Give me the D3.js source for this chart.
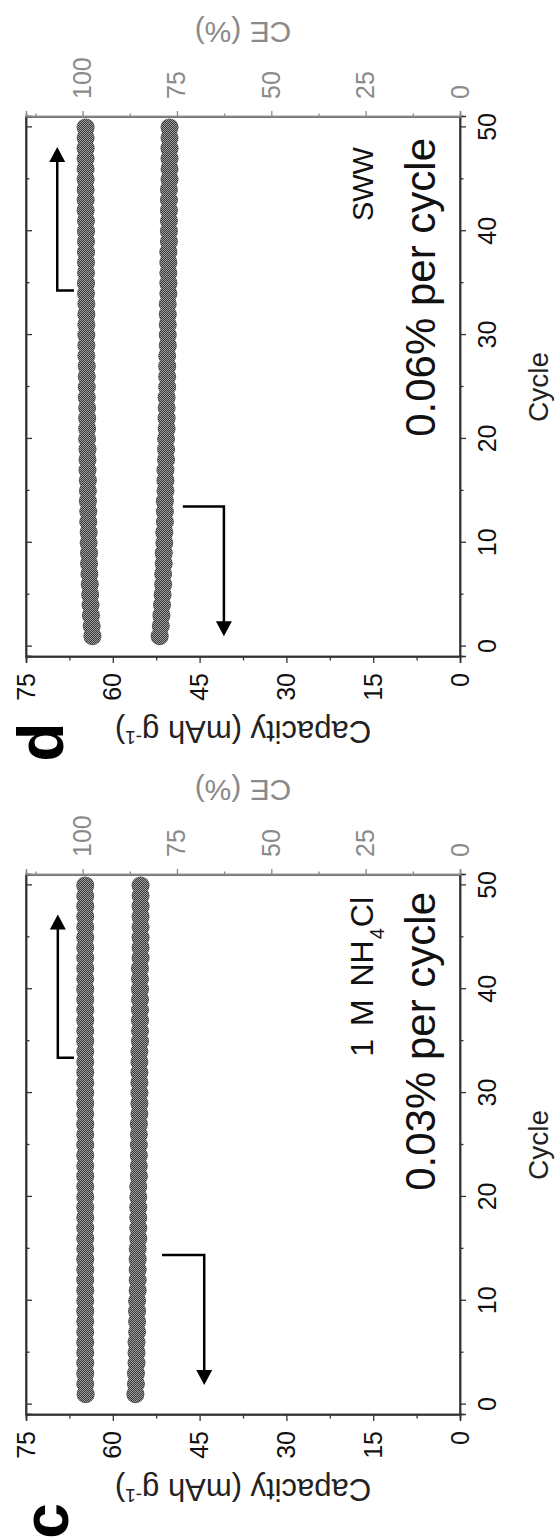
<!DOCTYPE html>
<html>
<head>
<meta charset="utf-8">
<script src="https://cdn.jsdelivr.net/npm/d3@7"></script>
<style>
  body { margin: 0; background: #fff; }
  svg { display: block; }
  text { font-family: "Liberation Sans", Arial, sans-serif; }
</style>
</head>
<body>
<svg width="560" height="1540"></svg>
<script>
// cycle numbers and the values
const cycles = [1, 2, 3, 4, 5, 6, 7, 8, 9, 10, 11, 12, 13, 14, 15, 16, 17, 18, 19, 20,
  21, 22, 23, 24, 25, 26, 27, 28, 29, 30, 31, 32, 33, 34, 35, 36, 37, 38, 39, 40,
  41, 42, 43, 44, 45, 46, 47, 48, 49, 50];

// panel c : 1 M NH4Cl
const capC = [56.1, 56.0, 56.0, 55.9, 55.9, 55.9, 55.8, 55.8, 55.8, 55.8,
  55.7, 55.7, 55.7, 55.7, 55.7, 55.6, 55.6, 55.6, 55.6, 55.6,
  55.6, 55.5, 55.5, 55.5, 55.5, 55.5, 55.5, 55.4, 55.4, 55.4,
  55.4, 55.4, 55.4, 55.4, 55.3, 55.3, 55.3, 55.3, 55.3, 55.3,
  55.3, 55.3, 55.2, 55.2, 55.2, 55.2, 55.2, 55.2, 55.2, 55.2];
const ceC = [99.2, 99.3, 99.3, 99.3, 99.3, 99.3, 99.3, 99.3, 99.3, 99.3,
  99.3, 99.3, 99.3, 99.3, 99.3, 99.3, 99.3, 99.3, 99.3, 99.3,
  99.3, 99.3, 99.3, 99.3, 99.3, 99.3, 99.3, 99.3, 99.3, 99.3,
  99.3, 99.3, 99.3, 99.3, 99.3, 99.3, 99.3, 99.3, 99.3, 99.3,
  99.3, 99.3, 99.3, 99.3, 99.3, 99.3, 99.3, 99.3, 99.3, 99.3];

// panel d : SWW
const capD = [51.9, 51.7, 51.6, 51.5, 51.4, 51.3, 51.3, 51.2, 51.2, 51.1,
  51.1, 51.0, 51.0, 51.0, 50.9, 50.9, 50.9, 50.8, 50.8, 50.8,
  50.7, 50.7, 50.7, 50.7, 50.6, 50.6, 50.6, 50.6, 50.5, 50.5,
  50.5, 50.5, 50.5, 50.4, 50.4, 50.4, 50.4, 50.4, 50.3, 50.3,
  50.3, 50.3, 50.3, 50.3, 50.2, 50.2, 50.2, 50.2, 50.2, 50.2];
const ceD = [97.4, 97.6, 97.8, 97.9, 98.0, 98.1, 98.2, 98.3, 98.3, 98.4,
  98.4, 98.5, 98.5, 98.6, 98.6, 98.6, 98.7, 98.7, 98.7, 98.8,
  98.8, 98.8, 98.8, 98.9, 98.9, 98.9, 98.9, 99.0, 99.0, 99.0,
  99.0, 99.0, 99.0, 99.1, 99.1, 99.1, 99.1, 99.1, 99.1, 99.1,
  99.1, 99.2, 99.2, 99.2, 99.2, 99.2, 99.2, 99.2, 99.2, 99.2];

// ticks
const cycleTicks = [0, 10, 20, 30, 40, 50];
const cycleMinor = [5, 15, 25, 35, 45];
const capTicks = [0, 15, 30, 45, 60, 75];
const capMinor = [7.5, 22.5, 37.5, 52.5, 67.5];
const ceTicks = [0, 25, 50, 75, 100];
const ceMinor = [12.5, 37.5, 62.5, 87.5, 112.5];

const svg = d3.select('svg');

// halftone-ish fill for the markers
const pat = svg.append('defs').append('pattern')
  .attr('id', 'dots')
  .attr('width', 2)
  .attr('height', 2)
  .attr('patternUnits', 'userSpaceOnUse');
pat.append('rect').attr('width', 2).attr('height', 2).attr('fill', '#a0a0a0');
pat.append('rect').attr('width', 1).attr('height', 1).attr('fill', '#383838');
pat.append('rect').attr('x', 1).attr('y', 1).attr('width', 1).attr('height', 1).attr('fill', '#383838');

// the figure is laid out upright (1540 x 560) and turned a quarter left
const fig = svg.append('g').attr('transform', 'translate(0,1540) rotate(-90)');

const plotW = 540;
const plotTop = 26;
const plotBottom = 460;

const panels = [
  {
    letter: 'c', x0: 125, cap: capC, ce: ceC,
    letterPos: [19, 68],
    label: ['1 M NH', '4', 'Cl'], labelSize: 32,
    rate: '0.03% per cycle',
    labelEnd: 643, rateEnd: 648,
    up: { from: 33.4, to: 47.2, v0: 66.7, v1: 69.5 },
    down: { from: 14.4, to: 1.9, v0: 51.5, v1: 44.2 },
  },
  {
    letter: 'd', x0: 883, cap: capD, ce: ceD,
    letterPos: [798, 63],
    label: ['SWW'], labelSize: 29,
    rate: '0.06% per cycle',
    labelEnd: 1393, rateEnd: 1402,
    up: { from: 34.3, to: 48.1, v0: 66.7, v1: 69.6 },
    down: { from: 13.5, to: 1.0, v0: 47.9, v1: 40.8 },
  },
];

function drawPanel(p) {
  const g = fig.append('g');

  const x = d3.scaleLinear().domain([-1, 51]).range([p.x0, p.x0 + plotW]);
  const y = d3.scaleLinear().domain([0, 75]).range([plotBottom, plotTop]);
  const y2 = d3.scaleLinear().domain([0, 115]).range([plotBottom, plotTop]);

  // markers, drawn as fat overlapping dots: thin dark rim first, textured body on top
  const series = [
    { vals: p.ce, s: y2 },
    { vals: p.cap, s: y },
  ];
  series.forEach(sr => {
    const m = g.append('g');
    m.selectAll('circle.rim')
      .data(cycles)
      .join('circle')
      .attr('class', 'rim')
      .attr('cx', d => x(d))
      .attr('cy', (d, i) => sr.s(sr.vals[i]))
      .attr('r', 9)
      .attr('fill', '#555');
    m.selectAll('circle.body')
      .data(cycles)
      .join('circle')
      .attr('class', 'body')
      .attr('cx', d => x(d))
      .attr('cy', (d, i) => sr.s(sr.vals[i]))
      .attr('r', 8.3)
      .attr('fill', 'url(#dots)');
  });

  // frame
  g.append('rect')
    .attr('x', x.range()[0])
    .attr('y', plotTop)
    .attr('width', plotW)
    .attr('height', plotBottom - plotTop)
    .attr('fill', 'none')
    .attr('stroke', '#333')
    .attr('stroke-width', 1.5);

  const tickFont = 25;

  // cycle axis
  g.append('g').attr('transform', `translate(0,${plotBottom})`)
    .call(d3.axisBottom(x).tickValues(cycleTicks).tickSize(6).tickPadding(12));
  g.append('g').attr('transform', `translate(0,${plotBottom})`)
    .call(d3.axisBottom(x).tickValues(cycleMinor).tickSize(3.5).tickFormat(''));
  g.append('g').attr('transform', `translate(0,${plotTop})`)
    .call(d3.axisBottom(x).tickValues(cycleTicks).tickSize(6).tickFormat(''));
  g.append('g').attr('transform', `translate(0,${plotTop})`)
    .call(d3.axisBottom(x).tickValues(cycleMinor).tickSize(3.5).tickFormat(''));

  // capacity axis
  g.append('g').attr('transform', `translate(${x.range()[0]},0)`)
    .call(d3.axisLeft(y).tickValues(capTicks).tickSize(6).tickPadding(10));
  g.append('g').attr('transform', `translate(${x.range()[0]},0)`)
    .call(d3.axisLeft(y).tickValues(capMinor).tickSize(3.5).tickFormat(''));

  // CE axis
  g.append('g').attr('class', 'ce').attr('transform', `translate(${x.range()[1]},0)`)
    .call(d3.axisRight(y2).tickValues(ceTicks).tickSize(6).tickPadding(12));
  g.append('g').attr('class', 'ce').attr('transform', `translate(${x.range()[1]},0)`)
    .call(d3.axisRight(y2).tickValues(ceMinor).tickSize(3.5).tickFormat(''));

  g.selectAll('.domain').attr('stroke', '#333').attr('stroke-width', 1.5);
  g.selectAll('.tick line').attr('stroke', '#333').attr('stroke-width', 1.3);
  g.selectAll('.tick text')
    .attr('font-size', tickFont)
    .attr('font-family', '"Liberation Sans", Arial, sans-serif')
    .attr('fill', '#111');
  g.selectAll('.ce .domain').attr('stroke', '#8a8a8a');
  g.selectAll('.ce .tick line').attr('stroke', '#8a8a8a');
  g.selectAll('.ce .tick text').attr('fill', '#8a8a8a');

  // axis titles
  g.append('text')
    .attr('x', (x.range()[0] + x.range()[1]) / 2)
    .attr('y', 538)
    .attr('dy', '0.35em')
    .attr('text-anchor', 'middle')
    .attr('font-size', 28)
    .attr('fill', '#222')
    .text('Cycle');

  const capTitle = g.append('text')
    .attr('transform', `translate(${p.x0 - 75},${(plotTop + plotBottom) / 2}) rotate(-90)`)
    .attr('dy', '0.35em')
    .attr('text-anchor', 'middle')
    .attr('font-size', 31)
    .attr('fill', '#222');
  capTitle.append('tspan').text('Capacity (mAh g');
  capTitle.append('tspan').attr('baseline-shift', 'super').attr('font-size', 19).text('-1');
  capTitle.append('tspan').text(')');

  g.append('text')
    .attr('transform', `translate(${p.x0 + plotW + 85},${(plotTop + plotBottom) / 2}) rotate(-90)`)
    .attr('dy', '0.35em')
    .attr('text-anchor', 'middle')
    .attr('font-size', 30)
    .attr('fill', '#8a8a8a')
    .text('CE (%)');

  // panel letter
  g.append('text')
    .attr('x', p.letterPos[0])
    .attr('y', p.letterPos[1])
    .attr('text-anchor', 'middle')
    .attr('font-size', 64)
    .attr('font-weight', 'bold')
    .text(p.letter);

  // electrolyte and fade rate
  const lab = g.append('text')
    .attr('x', p.labelEnd)
    .attr('y', 373)
    .attr('text-anchor', 'end')
    .attr('font-size', p.labelSize)
    .attr('word-spacing', 4)
    .attr('fill', '#111');
  lab.append('tspan').text(p.label[0]);
  if (p.label.length > 1) {
    lab.append('tspan').attr('dx', 1).attr('baseline-shift', 'sub').attr('font-size', 20).text(p.label[1]);
    lab.append('tspan').attr('dx', 1).text(p.label[2]);
  }
  g.append('text')
    .attr('x', p.rateEnd)
    .attr('y', 435)
    .attr('text-anchor', 'end')
    .attr('font-size', 42)
    .attr('fill', '#111')
    .text(p.rate);

  // arrows pointing at the axis each series belongs to
  const head = (tipX, tipY, dir) => {
    const L = 15, w = 8;
    return `M${tipX},${tipY}L${tipX - dir * L},${tipY - w}L${tipX - dir * L},${tipY + w}Z`;
  };
  const a = p.up;
  g.append('path')
    .attr('d', `M${x(a.from)},${y(a.v0)}V${y(a.v1)}H${x(a.to) - 10}`)
    .attr('fill', 'none').attr('stroke', '#000').attr('stroke-width', 2.5);
  g.append('path').attr('d', head(x(a.to), y(a.v1), 1)).attr('fill', '#000');
  const b = p.down;
  g.append('path')
    .attr('d', `M${x(b.from)},${y(b.v0)}V${y(b.v1)}H${x(b.to) + 10}`)
    .attr('fill', 'none').attr('stroke', '#000').attr('stroke-width', 2.5);
  g.append('path').attr('d', head(x(b.to), y(b.v1), -1)).attr('fill', '#000');
}

panels.forEach(drawPanel);
</script>
</body>
</html>
